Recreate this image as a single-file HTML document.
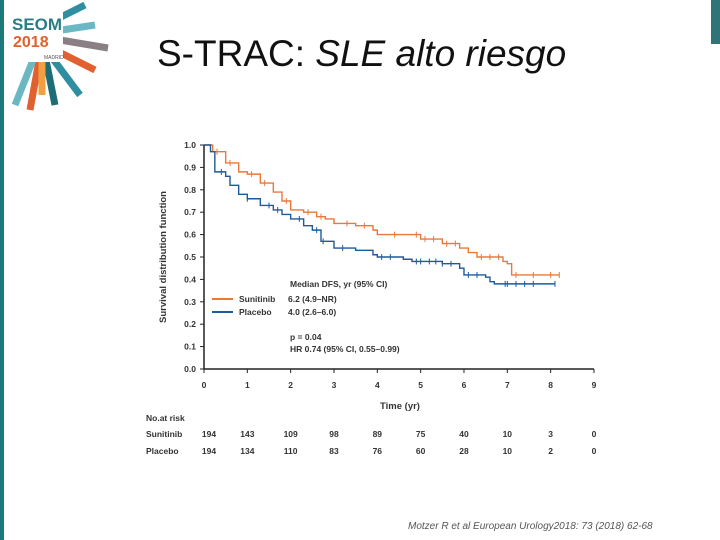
<!DOCTYPE html>
<html><head><meta charset="utf-8"><style>
body{margin:0;width:720px;height:540px;background:#fff;overflow:hidden;position:relative;font-family:"Liberation Sans",sans-serif}
</style></head><body>
<div style="position:absolute;left:0;top:0;width:4px;height:540px;background:#1e7a7a"></div>
<div style="position:absolute;left:711px;top:0;width:9px;height:44px;background:#2e7478"></div>
<svg style="position:absolute;left:0;top:0" width="115" height="115">
<g stroke-width="7">
<line x1="60" y1="40" x2="108" y2="48" stroke="#8a7f84"/>
<line x1="55" y1="50" x2="95" y2="70" stroke="#e0602f"/>
<line x1="50" y1="55" x2="80" y2="95" stroke="#2f8fa0"/>
<line x1="45" y1="55" x2="55" y2="105" stroke="#1e6d76"/>
<line x1="40" y1="55" x2="30" y2="110" stroke="#e0602f"/>
<line x1="35" y1="55" x2="15" y2="105" stroke="#6bb8c4"/>
<line x1="42" y1="55" x2="42" y2="95" stroke="#f0a040"/>
<line x1="55" y1="20" x2="85" y2="5" stroke="#2f8fa0"/>
<line x1="62" y1="30" x2="95" y2="25" stroke="#6bb8c4"/>
</g>
<rect x="8" y="5" width="55" height="57" fill="#fff"/>
<text x="12" y="30" font-size="17" font-weight="bold" fill="#2a7d84" font-family="Liberation Sans,sans-serif">SEOM</text>
<text x="13" y="47" font-size="16" font-weight="bold" fill="#e0602f" font-family="Liberation Sans,sans-serif">2018</text>
<text x="44" y="59" font-size="5" fill="#555" font-family="Liberation Sans,sans-serif">MADRID</text>
</svg>
<div style="position:absolute;left:157px;top:33px;font-size:37px;color:#111;white-space:nowrap">S-TRAC: <i>SLE alto riesgo</i></div>
<svg id="chart" style="position:absolute;left:0;top:0" width="720" height="540"></svg>
<div style="position:absolute;left:408px;top:521px;font-size:10px;font-style:italic;color:#555;white-space:nowrap">Motzer R et al European Urology2018: 73 (2018) 62-68</div>
<script>
const xTicks=[0,1,2,3,4,5,6,7,8,9];
const yTicks=[0,0.1,0.2,0.3,0.4,0.5,0.6,0.7,0.8,0.9,1.0];
const sunT=[0,0.2,0.5,0.8,1.0,1.3,1.6,1.8,2.0,2.3,2.6,2.8,3.0,3.5,3.9,4.0,4.8,5.0,5.5,5.9,6.1,6.3,6.9,7.0,7.1,8.2];
const sunS=[1.0,0.97,0.92,0.88,0.87,0.83,0.79,0.75,0.71,0.70,0.68,0.67,0.65,0.64,0.62,0.60,0.60,0.58,0.56,0.54,0.52,0.50,0.48,0.47,0.42,0.42];
const plaT=[0,0.15,0.25,0.5,0.6,0.8,1.0,1.3,1.6,1.8,2.0,2.3,2.5,2.7,3.0,3.5,3.9,4.0,4.6,4.8,5.5,5.9,6.0,6.5,6.6,6.7,8.1];
const plaS=[1.0,0.97,0.88,0.86,0.82,0.78,0.76,0.73,0.71,0.69,0.67,0.64,0.62,0.57,0.54,0.53,0.51,0.50,0.49,0.48,0.47,0.45,0.42,0.41,0.39,0.38,0.38];
const sunRisk=[194,143,109,98,89,75,40,10,3,0];
const plaRisk=[194,134,110,83,76,60,28,10,2,0];
const sunCens=[0.3,0.6,1.1,1.4,1.9,2.4,2.7,3.3,3.7,4.4,4.9,5.1,5.3,5.6,5.8,6.4,6.6,6.8,7.2,7.6,8.0,8.2];
const plaCens=[0.4,1.0,1.5,1.7,2.2,2.6,2.75,3.2,4.1,4.3,4.9,5.0,5.2,5.35,5.5,5.7,6.1,6.3,6.95,7.0,7.2,7.4,7.6,8.1];
const NS="http://www.w3.org/2000/svg";
const svg=document.getElementById('chart');
const X=t=>204+t*43.33, Y=s=>369-s*224;
function el(tag,attrs,txt){const e=document.createElementNS(NS,tag);for(const k in attrs)e.setAttribute(k,attrs[k]);if(txt!==undefined)e.textContent=txt;svg.appendChild(e);return e;}
let a=el('path',{d:`M${X(0)},${Y(1.0)}V${Y(0)}H${X(9)}`,stroke:'#222',fill:'none','stroke-width':1.5});


yTicks.forEach(v=>{
 const t=el('line',{x1:X(0)-4,x2:X(0),y1:Y(v),y2:Y(v),stroke:'#222'});
 
 
 const l=el('text',{x:X(0)-8,y:Y(v)+3,'font-size':8.5,'font-weight':'bold','text-anchor':'end',fill:'#333'},v.toFixed(1));
 
 
});
xTicks.forEach((v,i)=>{
 const t=el('line',{x1:X(v),x2:X(v),y1:Y(0),y2:Y(0)+4,stroke:'#222'});
 
 
 const l=el('text',{x:X(v),y:388,'font-size':8.5,'font-weight':'bold','text-anchor':'middle',fill:'#333'},v);
 
 
 const r1=el('text',{x:X(v)+(i==0?5:0),y:437,'font-size':8.5,'font-weight':'bold','text-anchor':'middle',fill:'#333'},sunRisk[i]);
 
 
 const r2=el('text',{x:X(v)+(i==0?5:0),y:454,'font-size':8.5,'font-weight':'bold','text-anchor':'middle',fill:'#333'},plaRisk[i]);
 
 
});
let xt=el('text',{x:400,y:409,'font-size':9.5,'font-weight':'bold','text-anchor':'middle',fill:'#333'},'Time (yr)');


let yt=el('text',{x:0,y:0,'font-size':9.5,'font-weight':'bold','text-anchor':'middle',fill:'#333',transform:'translate(166,257) rotate(-90)'},'Survival distribution function');


[['No.at risk',421],['Sunitinib',437],['Placebo',454]].forEach(([s,y])=>{
 const l=el('text',{x:146,y:y,'font-size':8.5,'font-weight':'bold',fill:'#333'},s);
 
 
});
function valAt(T,S,t){let s=S[0];for(let i=0;i<T.length;i++){if(T[i]<=t)s=S[i];}return s;}
function curve(T,S,cens,color,name){
 let d=`M${X(T[0])},${Y(S[0])}`;
 for(let i=1;i<T.length;i++){d+=`H${X(T[i])}V${Y(S[i])}`;}
 const p=el('path',{d:d,stroke:color,fill:'none','stroke-width':1.4});
 
 
 cens.forEach(t=>{
  const y=Y(valAt(T,S,t));
  const c=el('line',{x1:X(t),x2:X(t),y1:y-3,y2:y+3,stroke:color,'stroke-width':1});
  
  
 });
}
curve(sunT,sunS,sunCens,'#e8793a','sunitinib');
curve(plaT,plaS,plaCens,'#1f5a9a','placebo');
const lg=[['Median DFS, yr (95% CI)',290,287,null],['Sunitinib',239,302,'#e8793a'],['Placebo',239,315,'#1f5a9a']];
lg.forEach(([s,x,y,c])=>{
 if(c){const ln=el('line',{x1:212,x2:233,y1:y-3,y2:y-3,stroke:c,'stroke-width':2});
  
  }
 const l=el('text',{x:x,y:y,'font-size':8.5,'font-weight':'bold',fill:'#333'},s);
 
 
});
[['6.2 (4.9–NR)',288,302],['4.0 (2.6–6.0)',288,315],['p = 0.04',290,340],['HR 0.74 (95% CI, 0.55–0.99)',290,352]].forEach(([s,x,y])=>{
 const l=el('text',{x:x,y:y,'font-size':8.5,'font-weight':'bold',fill:'#333'},s);
 
 
});
</script>
</body></html>
